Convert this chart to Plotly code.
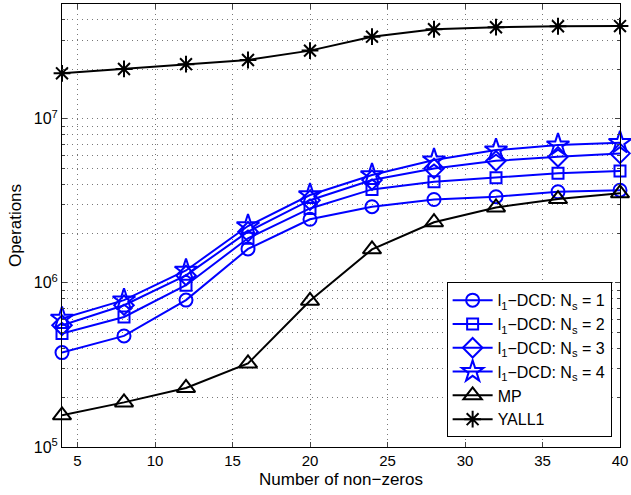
import plotly.graph_objects as go

# Sparsity levels (number of non-zeros) on the x axis
nonzeros = [4, 8, 12, 16, 20, 24, 28, 32, 36, 40]

# Operation counts per algorithm
dcd_ns1 = [3.76e5, 4.75e5, 7.85e5, 1.61e6, 2.44e6, 2.91e6, 3.22e6, 3.35e6, 3.59e6, 3.67e6]
dcd_ns2 = [4.91e5, 6.20e5, 9.68e5, 1.87e6, 2.84e6, 3.71e6, 4.13e6, 4.37e6, 4.65e6, 4.80e6]
dcd_ns3 = [5.52e5, 7.31e5, 1.11e6, 2.05e6, 3.19e6, 4.23e6, 4.98e6, 5.54e6, 5.86e6, 6.15e6]
dcd_ns4 = [6.07e5, 7.85e5, 1.19e6, 2.22e6, 3.43e6, 4.54e6, 5.60e6, 6.44e6, 6.91e6, 7.14e6]
mp = [1.56e5, 1.87e5, 2.29e5, 3.23e5, 7.77e5, 1.60e6, 2.34e6, 2.88e6, 3.24e6, 3.51e6]
yall1 = [1.89e7, 2.01e7, 2.15e7, 2.28e7, 2.60e7, 3.16e7, 3.51e7, 3.61e7, 3.66e7, 3.67e7]

x_ticks = [5, 10, 15, 20, 25, 30, 35, 40]
y_ticks = [1e5, 1e6, 1e7]
y_ticktext = ["10<sup>5</sup>", "10<sup>6</sup>", "10<sup>7</sup>"]
y_minor = [m * 10 ** e for e in (5, 6, 7) for m in range(2, 10) if m * 10 ** e <= 5e7]

BLUE = "#0000FF"
BLACK = "#000000"
FONT = "Liberation Sans, Arial, sans-serif"

series = [
    ("l<sub>1</sub>\u2212DCD: N<sub>s</sub> = 1", dcd_ns1, BLUE, "circle-open", 13),
    ("l<sub>1</sub>\u2212DCD: N<sub>s</sub> = 2", dcd_ns2, BLUE, "square-open", 11),
    ("l<sub>1</sub>\u2212DCD: N<sub>s</sub> = 3", dcd_ns3, BLUE, "diamond-open", 15),
    ("l<sub>1</sub>\u2212DCD: N<sub>s</sub> = 4", dcd_ns4, BLUE, "star-open", 17),
    ("MP", mp, BLACK, "triangle-up-open", 16),
    ("YALL1", yall1, BLACK, "asterisk-open", 14),
]

fig = go.Figure()
for name, vals, color, symbol, size in series:
    fig.add_trace(go.Scatter(
        x=nonzeros, y=vals, name=name, mode="lines+markers",
        line=dict(color=color, width=2),
        marker=dict(symbol=symbol, size=size, color=color,
                    line=dict(color=color, width=2)),
        cliponaxis=False,
    ))

grid = dict(showgrid=True, gridcolor="rgb(120,120,120)", gridwidth=1,
            griddash="1px,4px")

fig.update_layout(
    width=631, height=495,
    margin=dict(l=62, r=7, t=3, b=48),
    paper_bgcolor="white", plot_bgcolor="white",
    font=dict(family=FONT, size=15, color="black"),
    showlegend=True,
    legend=dict(
        x=0.985, y=0.022, xanchor="right", yanchor="bottom",
        bordercolor="black", borderwidth=1, bgcolor="white",
        font=dict(family=FONT, size=16, color="black"),
        tracegroupgap=0, itemwidth=40,
    ),
    xaxis=dict(
        range=[4, 40], tickvals=x_ticks, ticks="inside", ticklen=5,
        showline=True, linecolor="black", linewidth=1, mirror="ticks",
        zeroline=False, tickfont=dict(size=15), ticklabeloverflow="allow",
        title=dict(text="Number of non\u2212zeros", font=dict(size=17), standoff=5),
        **grid,
    ),
    yaxis=dict(
        type="log", range=[5, 7.699], tickvals=y_ticks, ticktext=y_ticktext,
        ticks="inside", ticklen=5,
        showline=True, linecolor="black", linewidth=1, mirror="ticks",
        zeroline=False, tickfont=dict(size=16), ticklabeloverflow="allow",
        title=dict(text="Operations", font=dict(size=17), standoff=7),
        minor=dict(tickvals=y_minor, ticks="inside", ticklen=3,
                   showgrid=True, gridcolor="rgb(120,120,120)",
                   griddash="1px,4px"),
        **grid,
    ),
)

fig.write_html("out.html")
